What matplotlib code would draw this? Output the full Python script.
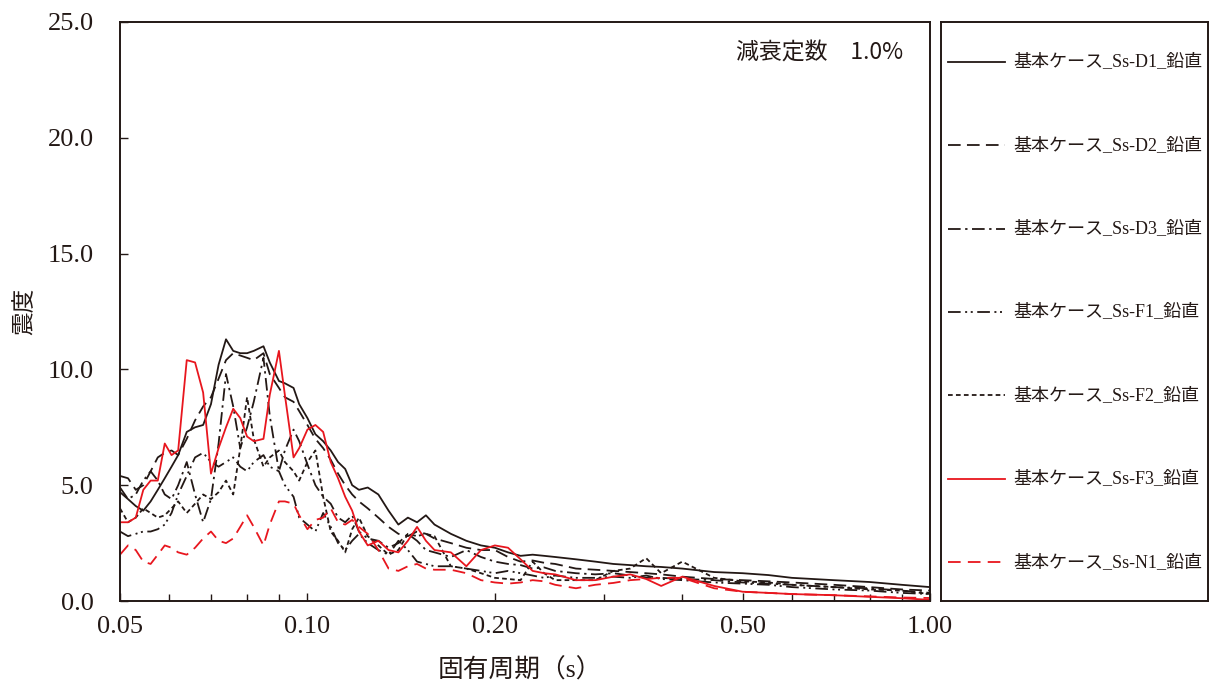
import matplotlib
matplotlib.use("Agg")
import matplotlib.pyplot as plt
from matplotlib.ticker import FixedLocator, FixedFormatter, NullFormatter

plt.rcParams['font.family'] = ['Liberation Serif', 'Noto Sans CJK JP', 'DejaVu Sans']

periods = [0.050, 0.0515, 0.053, 0.0545, 0.056, 0.0575, 0.059, 0.0605, 0.062, 0.064,
           0.066, 0.068, 0.070, 0.072, 0.074, 0.076, 0.078, 0.080, 0.082, 0.085,
           0.087, 0.090, 0.092, 0.095, 0.097, 0.100, 0.103, 0.106, 0.109, 0.112,
           0.115, 0.118, 0.121, 0.125, 0.13, 0.135, 0.14, 0.145, 0.15, 0.155,
           0.16, 0.17, 0.18, 0.19, 0.20, 0.21, 0.22, 0.23, 0.24, 0.25,
           0.27, 0.29, 0.31, 0.33, 0.35, 0.37, 0.40, 0.45, 0.50, 0.55,
           0.60, 0.70, 0.80, 0.90, 1.00]

ss_d1 = [4.7, 4.4, 4.1, 3.9, 4.3, 4.8, 5.3, 5.8, 6.3, 7.3,
         7.5, 7.6, 8.5, 10.2, 11.3, 10.8, 10.7, 10.7, 10.8, 11.0,
         10.3, 9.5, 9.4, 9.2, 8.5, 7.9, 7.2, 6.9, 6.5, 6.0,
         5.7, 5.0, 4.8, 4.9, 4.6, 3.9, 3.3, 3.6, 3.4, 3.7,
         3.3, 2.9, 2.6, 2.4, 2.3, 2.1, 1.95, 2.0, 1.95, 1.9,
         1.8, 1.7, 1.6, 1.55, 1.5, 1.47, 1.4, 1.25, 1.2, 1.12,
         1.0, 0.9, 0.82, 0.7, 0.6]

ss_d2 = [5.4, 5.3, 4.8, 5.0, 5.6, 6.2, 6.4, 6.5, 6.3, 7.0,
         7.8, 8.4, 8.8, 9.6, 10.4, 10.7, 10.6, 10.5, 10.4, 10.7,
         9.8, 9.2, 8.8, 8.6, 8.2, 7.6, 7.0, 6.6, 6.1, 5.5,
         5.0, 4.6, 4.3, 4.0, 3.6, 3.2, 2.9, 2.8, 3.0, 2.9,
         2.7, 2.5, 2.3, 2.2, 2.2, 1.9, 1.7, 1.75, 1.65, 1.6,
         1.4, 1.35, 1.3, 1.25, 1.2, 1.15, 1.05, 0.95, 0.9, 0.85,
         0.8, 0.7, 0.6, 0.5, 0.45]

ss_d3 = [4.9, 4.4, 4.6, 5.2, 5.6, 5.2, 4.6, 4.4, 5.0, 6.0,
         4.6, 3.4, 4.4, 6.8, 9.8, 8.4, 6.6, 7.5, 8.6, 10.5,
         8.0, 5.6, 6.5, 7.4, 6.9, 5.9, 5.0, 4.5, 4.2, 3.6,
         3.4, 3.7, 3.0, 2.7, 2.6, 2.3, 2.5, 2.9, 2.6, 2.2,
         2.1, 1.9, 2.2, 1.9, 1.7, 1.6, 1.55, 1.4, 1.45, 1.3,
         1.2, 1.15, 1.2, 1.1, 1.0, 1.0, 0.95, 0.9, 0.8, 0.75,
         0.7, 0.6, 0.55, 0.45, 0.35]

ss_f1 = [3.0, 2.8, 2.9, 3.0, 3.0, 3.1, 3.3, 3.8, 4.6, 5.4,
         6.2, 6.4, 6.0, 5.8, 6.0, 6.2, 5.8, 5.6, 6.0, 6.3,
         5.8, 5.6, 5.0, 4.5, 3.6, 3.3, 3.0, 3.8, 3.2, 2.5,
         2.2, 2.6, 2.9, 2.5, 2.2, 2.0, 2.6, 2.2, 1.7, 1.6,
         1.5, 1.5, 1.4, 1.3, 1.2, 1.3, 1.2, 1.1, 1.0, 1.1,
         1.0, 1.0, 1.05, 1.0, 1.1, 0.95, 0.9, 0.8, 0.75, 0.7,
         0.6, 0.5, 0.45, 0.35, 0.3]

ss_f2 = [4.0, 3.4, 3.6, 4.0, 3.8, 3.6, 3.7, 4.0, 4.3, 3.8,
         4.2, 4.6, 4.4, 4.7, 5.2, 4.6, 6.6, 8.8, 7.0, 5.8,
         6.2, 6.5, 6.0, 5.6, 5.2, 6.0, 6.5, 4.5, 3.0, 2.6,
         2.1, 3.1, 3.6, 2.8, 2.4, 2.0, 2.2, 2.9, 2.8, 2.9,
         2.8, 1.5, 1.4, 1.2, 1.0, 0.95, 0.9, 1.7, 1.2, 0.9,
         0.9, 0.9, 1.3, 1.4, 1.85, 1.2, 1.7, 1.0, 0.85, 0.8,
         0.7, 0.6, 0.5, 0.45, 0.3]

ss_f3 = [3.4, 3.4, 3.6, 4.8, 5.2, 5.2, 6.8, 6.3, 6.5, 10.4,
         10.3, 9.0, 5.5, 6.6, 7.5, 8.3, 7.9, 7.1, 6.9, 7.0,
         8.9, 10.8, 8.9, 6.2, 6.6, 7.4, 7.6, 7.3, 6.0, 5.3,
         4.5, 3.9, 3.0, 2.4, 2.6, 2.2, 2.1, 2.6, 3.2, 2.6,
         2.2, 2.1, 1.5, 2.2, 2.4, 2.3, 1.8, 1.3, 1.2, 1.15,
         0.9, 0.9, 1.05, 1.15, 0.95, 0.65, 1.05, 0.65, 0.4, 0.35,
         0.3, 0.25, 0.18, 0.12, 0.05]

ss_n1 = [2.0, 2.4, 2.2, 1.7, 1.6, 2.0, 2.4, 2.3, 2.1, 2.0,
         2.3, 2.7, 3.0, 2.6, 2.5, 2.7, 3.2, 3.7, 3.2, 2.4,
         3.3, 4.3, 4.3, 4.2, 3.7, 3.1, 3.5, 3.6, 4.0, 3.4,
         3.3, 3.5, 3.2, 2.9, 2.2, 1.4, 1.3, 1.5, 1.6, 1.4,
         1.35, 1.35, 1.2, 0.9, 0.8, 0.75, 0.8, 0.9, 0.85, 0.7,
         0.55, 0.7, 0.78, 0.9, 0.95, 1.0, 1.0, 0.55, 0.4, 0.35,
         0.3, 0.25, 0.2, 0.15, 0.13]

labels = ['基本ケース_Ss-D1_鉛直', '基本ケース_Ss-D2_鉛直', '基本ケース_Ss-D3_鉛直',
          '基本ケース_Ss-F1_鉛直', '基本ケース_Ss-F2_鉛直', '基本ケース_Ss-F3_鉛直',
          '基本ケース_Ss-N1_鉛直']
series = [ss_d1, ss_d2, ss_d3, ss_f1, ss_f2, ss_f3, ss_n1]

x_ticks = [0.05, 0.10, 0.20, 0.50, 1.00]
x_ticklabels = ['0.05', '0.10', '0.20', '0.50', '1.00']
x_minor = [0.06, 0.07, 0.08, 0.09, 0.3, 0.4, 0.6, 0.7, 0.8, 0.9]
y_ticks = [0.0, 5.0, 10.0, 15.0, 20.0, 25.0]

BLACK = '#231815'
RED = '#e8161e'
styles = [
    dict(color=BLACK, linestyle='-'),
    dict(color=BLACK, linestyle=(0, (7, 3.5))),
    dict(color=BLACK, linestyle=(0, (7, 2.5, 1.3, 2.5))),
    dict(color=BLACK, linestyle=(0, (7, 2.5, 1.1, 2, 1.1, 2.5))),
    dict(color=BLACK, linestyle=(0, (2.6, 1.8))),
    dict(color=RED, linestyle='-'),
    dict(color=RED, linestyle=(0, (7, 4))),
]
LW = 1.3

fig = plt.figure(figsize=(12.10, 6.89), dpi=100)
ax = fig.add_axes([120/1210, 88/689, 810/1210, 579/689])
for vals, st in zip(series, styles):
    ax.plot(periods, vals, lw=LW, **st)

ax.set_xscale('log')
ax.set_xlim(0.05, 1.0)
ax.set_ylim(0, 25)
ax.xaxis.set_major_locator(FixedLocator(x_ticks))
ax.xaxis.set_major_formatter(FixedFormatter(x_ticklabels))
ax.xaxis.set_minor_locator(FixedLocator(x_minor))
ax.xaxis.set_minor_formatter(NullFormatter())
ax.set_yticks(y_ticks)
ax.set_yticklabels([f'{v:.1f}' for v in y_ticks])
ax.tick_params(axis='both', which='both', direction='in', colors=BLACK,
               labelsize=19, width=1.0)
ax.tick_params(axis='x', which='major', length=6, pad=11)
ax.tick_params(axis='x', which='minor', length=5)
ax.tick_params(axis='y', which='major', length=6, pad=19)
for s in ax.spines.values():
    s.set_linewidth(1.4)
    s.set_color(BLACK)

ax.text(0.967, 0.948, '減衰定数　1.0%', transform=ax.transAxes, ha='right', va='center',
        fontsize=16.5, color=BLACK, family=['Noto Sans CJK JP'])

fig.text(520/1210, 1 - 670/689, '固有周期（s）', ha='center', va='center', fontsize=18.5, color=BLACK)
fig.text(25/1210, 1 - 311/689, '震度', ha='center', va='center', rotation=90, fontsize=17,
         color=BLACK, family=['Noto Sans CJK JP'])

# legend box
lg = fig.add_axes([941/1210, 88/689, 267/1210, 579/689])
lg.set_xlim(0, 1)
lg.set_ylim(0, 1)
lg.set_xticks([])
lg.set_yticks([])
for s in lg.spines.values():
    s.set_linewidth(1.4)
    s.set_color(BLACK)
for i, (lab, st) in enumerate(zip(labels, styles)):
    yy = 0.931 - i * 0.1440
    lg.plot([0.026, 0.24], [yy, yy], lw=LW, **st)
    lg.text(0.27, yy, lab, ha='left', va='center', fontsize=13, color=BLACK)

fig.savefig('out.png', dpi=100)
